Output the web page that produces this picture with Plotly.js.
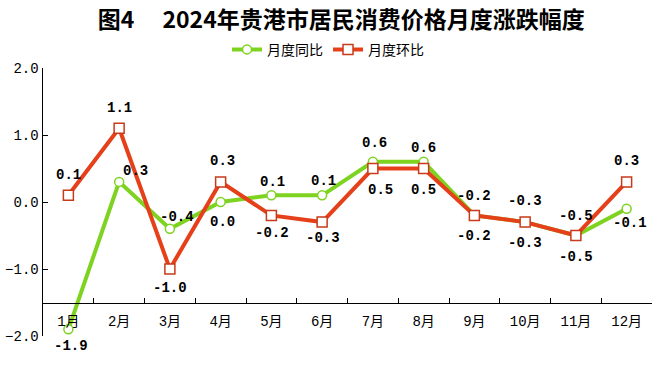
<!DOCTYPE html>
<html><head><meta charset="utf-8">
<script src="https://cdn.plot.ly/plotly-3.0.1.min.js"></script>
<style>body{margin:0;background:#fff}#c{width:660px;height:370px}</style>
</head><body><div id="c"></div>
<script>
const months = ['1月','2月','3月','4月','5月','6月','7月','8月','9月','10月','11月','12月'];
const yoy = [-1.9, 0.3, -0.4, 0.0, 0.1, 0.1, 0.6, 0.6, -0.2, -0.3, -0.5, -0.1];
const mom = [0.1, 1.1, -1.0, 0.3, -0.2, -0.3, 0.5, 0.5, -0.2, -0.3, -0.5, 0.3];
// label offsets (pixels) relative to each point
const yoyDy = [-17, 11, 12, -20, 13, 14, 19, 14, -21, -21, 20, -14];
const yoyDx = [3, 16, 7, 2, 1, 1, 2, 0, 0, 0, 0, 3];
const momDy = [20, 20, -19, 21, -18, -16, -21, -21, 19, 21, -21, 21];
const momDx = [0, 0, 0, 2, 1, 1, 8, 0, 0, 0, 0, 0];
const fmt = v => (v < 0 ? '-' : '') + Math.abs(v).toFixed(1);
const lblFont = {family:'Liberation Mono, DejaVu Sans Mono, monospace', size:14, color:'#000', weight:'bold'};
const GREEN = '#7ED321', RED = '#E5401A';
const traces = [
  {x: months, y: yoy, name:'月度同比', mode:'lines+markers', type:'scatter',
   line:{color:GREEN, width:4}, marker:{symbol:'circle', size:9, color:'#fff', line:{color:GREEN, width:1.5}}, cliponaxis:false},
  {x: months, y: mom, name:'月度环比', mode:'lines+markers', type:'scatter',
   line:{color:RED, width:4}, marker:{symbol:'square', size:10, color:'#fff', line:{color:'#C83A1A', width:1.5}}, cliponaxis:false}
];
const annotations = [];
months.forEach((m, i) => {
  annotations.push({x:m, y:yoy[i], xref:'x', yref:'y', text:fmt(yoy[i]), showarrow:false,
    xshift:yoyDx[i], yshift:yoyDy[i], font:lblFont});
  annotations.push({x:m, y:mom[i], xref:'x', yref:'y', text:fmt(mom[i]), showarrow:false,
    xshift:momDx[i], yshift:momDy[i], font:lblFont});
});
const layout = {
  width:660, height:370,
  margin:{l:43, r:8, t:68, b:34},
  paper_bgcolor:'#fff', plot_bgcolor:'#fff',
  title:{text:'图4\u3000 2024年贵港市居民消费价格月度涨跌幅度', x:0.517, xanchor:'center', y:0.945, yanchor:'middle',
         font:{family:'Noto Sans CJK SC', size:23, color:'#000', weight:'bold'}},
  showlegend:true,
  legend:{orientation:'h', x:0.468, xanchor:'center', y:1.068, yanchor:'middle',
          font:{family:'Noto Sans CJK SC', size:14, color:'#000'}, tracegroupgap:0},
  annotations: annotations,
  xaxis:{type:'category', range:[-0.5, 11.5], anchor:'free', position:0.125,
         showline:true, linecolor:'#000', linewidth:1.5, showgrid:false, zeroline:false,
         ticks:'inside', tickson:'boundaries', ticklen:5, tickcolor:'#000', ticklabelstandoff:5,
         tickfont:{family:'Liberation Mono, Noto Sans CJK SC', size:14, color:'#000'}, fixedrange:true},
  yaxis:{range:[-2, 2], dtick:1, tickformat:'.1f', showline:true, linecolor:'#000', linewidth:1.5,
         showgrid:false, zeroline:false, ticks:'inside', ticklen:5, tickcolor:'#000',
         tickfont:{family:'Liberation Mono, monospace', size:14, color:'#000'}, fixedrange:true}
};
Plotly.newPlot('c', traces, layout, {displayModeBar:false, staticPlot:true});
</script></body></html>
